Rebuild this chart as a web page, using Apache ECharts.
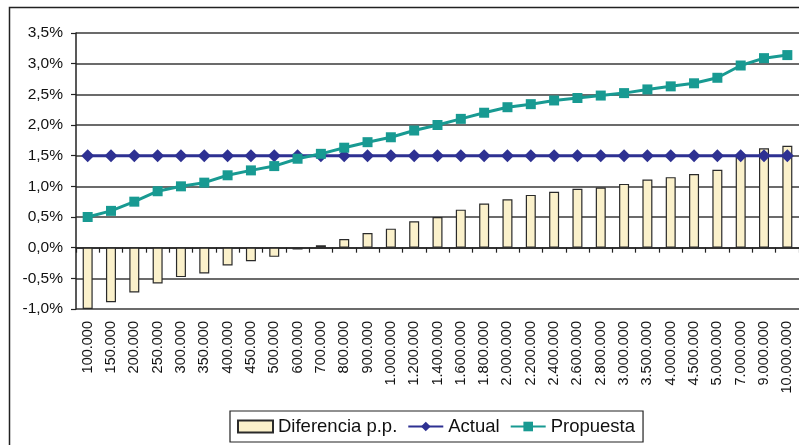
<!DOCTYPE html>
<html>
<head>
<meta charset="utf-8">
<script src="https://cdn.jsdelivr.net/npm/echarts@6/dist/echarts.min.js"></script>
<style>
html,body{margin:0;padding:0;background:#fff;}
#chart{width:799px;height:445px;}
</style>
</head>
<body>
<div id="chart"></div>
<script>
var categories = ['100.000','150.000','200.000','250.000','300.000','350.000','400.000','450.000','500.000','600.000','700.000','800.000','900.000','1.000.000','1.200.000','1.400.000','1.600.000','1.800.000','2.000.000','2.200.000','2.400.000','2.600.000','2.800.000','3.000.000','3.500.000','4.000.000','4.500.000','5.000.000','7.000.000','9.000.000','10.000.000'];
var diferencia = [-1.0,-0.89,-0.73,-0.585,-0.48,-0.42,-0.29,-0.22,-0.15,-0.03,0.04,0.14,0.24,0.31,0.43,0.50,0.62,0.72,0.79,0.86,0.91,0.96,0.98,1.04,1.11,1.15,1.20,1.27,1.48,1.62,1.66];
var actual = [1.5,1.5,1.5,1.5,1.5,1.5,1.5,1.5,1.5,1.5,1.5,1.5,1.5,1.5,1.5,1.5,1.5,1.5,1.5,1.5,1.5,1.5,1.5,1.5,1.5,1.5,1.5,1.5,1.5,1.5,1.5];
var propuesta = [0.5,0.6,0.75,0.92,1.0,1.06,1.18,1.26,1.33,1.45,1.53,1.63,1.72,1.80,1.91,2.0,2.10,2.20,2.29,2.34,2.40,2.44,2.48,2.52,2.58,2.63,2.68,2.77,2.97,3.09,3.14];
var yTicks = {min:-1.0, max:3.5, interval:0.5};

var FONT = "'Liberation Sans', Arial, sans-serif";
var chart = echarts.init(document.getElementById('chart'), null, {renderer:'canvas'});
chart.setOption({
  animation:false,
  backgroundColor:'#fff',
  textStyle:{fontFamily:FONT},
  graphic:[{type:'rect', shape:{x:9.5,y:7.5,width:900,height:600}, style:{fill:'none', stroke:'#222', lineWidth:1.5}, silent:true, z:-1}],
  grid:{left:76, top:33, right:0, bottom:136, containLabel:false},
  legend:{
    left:230, top:411,
    padding:[6,8,6,7],
    borderColor:'#222', borderWidth:1.2,
    itemWidth:35, itemHeight:12, itemGap:10,
    textStyle:{fontFamily:FONT, fontSize:18.5, color:'#111'},
    data:[{name:'Diferencia p.p.', icon:'rect'}, 'Actual', 'Propuesta']
  },
  xAxis:[{
    type:'category', data:categories, position:'bottom',
    axisLine:{show:true, onZero:true, lineStyle:{color:'#222', width:1.5}},
    axisTick:{show:true, interval:0, length:5, lineStyle:{color:'#222', width:1.2}},
    axisLabel:{show:false},
    splitLine:{show:false}
  },{
    type:'category', data:categories, position:'bottom',
    axisLine:{show:false, onZero:false},
    axisTick:{show:false},
    axisLabel:{show:true, rotate:90, margin:12, fontSize:14.5, color:'#111', fontFamily:FONT, interval:0},
    splitLine:{show:false}
  }],
  yAxis:{
    type:'value', min:yTicks.min, max:yTicks.max, interval:yTicks.interval,
    axisLine:{show:true, lineStyle:{color:'#222', width:1.5}},
    axisTick:{show:true, length:5, lineStyle:{color:'#222', width:1.2}},
    axisLabel:{margin:13, fontSize:15.5, color:'#111', fontFamily:FONT,
      formatter:function(v){return v.toFixed(1).replace('.', ',') + '%';}},
    splitLine:{show:true, lineStyle:{color:'#3a3a3a', width:1.5}}
  },
  series:[{
    name:'Diferencia p.p.', type:'bar', data:diferencia, barWidth:10, xAxisIndex:0,
    itemStyle:{color:'#FBF1CB', borderColor:'#2a2a2a', borderWidth:1.2},
    z:2
  },{
    name:'Actual', type:'line', data:actual, xAxisIndex:0,
    symbol:'diamond', symbolSize:13, showSymbol:true,
    lineStyle:{color:'#2E3192', width:3},
    itemStyle:{color:'#2E3192'},
    z:3
  },{
    name:'Propuesta', type:'line', data:propuesta, xAxisIndex:0,
    symbol:'rect', symbolSize:10, showSymbol:true,
    lineStyle:{color:'#189A92', width:3},
    itemStyle:{color:'#189A92'},
    z:4
  }]
});
</script>
</body>
</html>
